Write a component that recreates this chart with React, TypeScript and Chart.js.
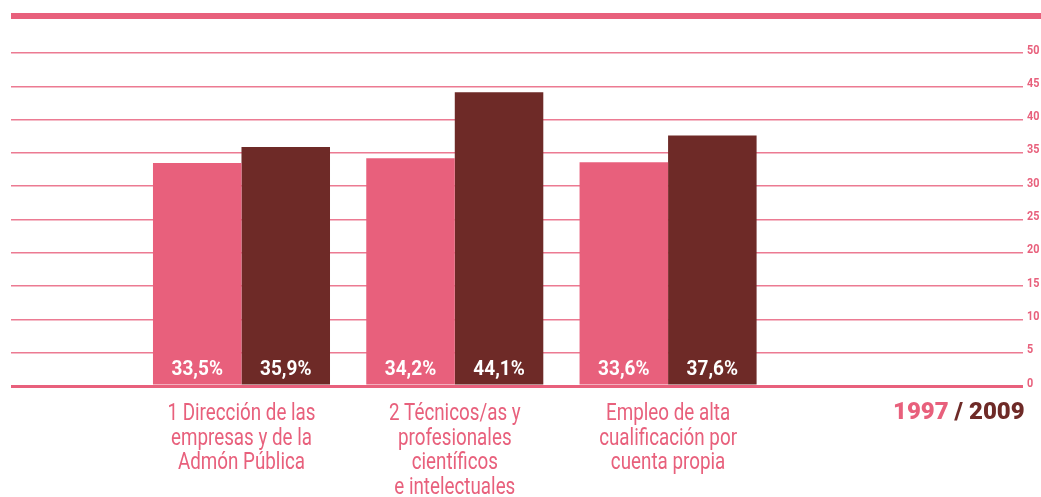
import React, { useEffect, useRef } from "react";
import { Chart, registerables } from "chart.js";

Chart.register(...registerables);

const categories: string[][] = [
  ["1 Dirección de las", "empresas y de la", "Admón Pública"],
  ["2 Técnicos/as y", "profesionales", "científicos", "e intelectuales"],
  ["Empleo de alta", "cualificación por", "cuenta propia"],
];
const groupPositions = [1, 2, 3];
const values1997 = [33.5, 34.2, 33.6];
const values2009 = [35.9, 44.1, 37.6];
const yTicks = [0, 5, 10, 15, 20, 25, 30, 35, 40, 45, 50];

const PINK = "#e8607c";
const DARK = "#6e2a27";
const GRID = "#ec7a92";
const FONT = "Roboto, 'DejaVu Sans', sans-serif";

const fmt = (v: number) => v.toFixed(1).replace(".", ",") + "%";

function squeezeText(ctx: any, text: string, x: number, y: number, sx: number) {
  ctx.save();
  ctx.translate(x, y);
  ctx.scale(sx, 1);
  ctx.fillText(text, 0, 0);
  ctx.restore();
}

export default function App() {
  const ref = useRef<HTMLCanvasElement | null>(null);
  useEffect(() => {
    if (!ref.current) return;
    const decor = {
      id: "decor",
      beforeDraw(chart: any) {
        const { ctx, chartArea } = chart;
        ctx.save();
        ctx.fillStyle = PINK;
        ctx.fillRect(chartArea.left, 13, chart.width - chartArea.left, 6);
        ctx.restore();
      },
      afterDatasetsDraw(chart: any) {
        const { ctx, chartArea } = chart;
        ctx.save();
        ctx.fillStyle = "#ffffff";
        ctx.font = `bold 20px ${FONT}`;
        ctx.textAlign = "center";
        ctx.textBaseline = "alphabetic";
        chart.data.datasets.forEach((ds: any, di: number) => {
          const meta = chart.getDatasetMeta(di);
          meta.data.forEach((el: any, i: number) => {
            squeezeText(ctx, fmt(ds.data[i].y), el.x, chartArea.bottom - 11, 0.95);
          });
        });
        ctx.restore();
      },
      afterDraw(chart: any) {
        const { ctx, chartArea } = chart;
        const xs = chart.scales.x;
        const ys = chart.scales.y;
        ctx.save();
        ctx.fillStyle = PINK;
        ctx.font = `23.5px ${FONT}`;
        ctx.textAlign = "center";
        ctx.textBaseline = "alphabetic";
        categories.forEach((lines, i) => {
          const cx = xs.getPixelForValue(groupPositions[i]);
          lines.forEach((line, k) => {
            squeezeText(ctx, line, cx, chartArea.bottom + 34 + k * 24.5, 0.8);
          });
        });
        ctx.font = `bold 13.5px ${FONT}`;
        ctx.textAlign = "left";
        yTicks.forEach((v) => {
          const y = ys.getPixelForValue(v);
          squeezeText(ctx, String(v), chartArea.right + 4, y + 0.5, 0.8);
        });
        ctx.restore();
      },
    };
    const chart = new Chart(ref.current, {
      type: "bar",
      data: {
        datasets: [
          {
            label: "1997",
            data: groupPositions.map((x, i) => ({ x, y: values1997[i] })),
            backgroundColor: PINK,
            categoryPercentage: 0.83,
            barPercentage: 1.0,
          },
          {
            label: "2009",
            data: groupPositions.map((x, i) => ({ x, y: values2009[i] })),
            backgroundColor: DARK,
            categoryPercentage: 0.83,
            barPercentage: 1.0,
          },
        ],
      },
      options: {
        animation: false,
        responsive: false,
        maintainAspectRatio: false,
        layout: { padding: { left: 11, top: 53, right: 0, bottom: 0 } },
        plugins: { legend: { display: false }, tooltip: { enabled: false } },
        scales: {
          x: {
            type: "linear",
            offset: false,
            min: -0.0806,
            max: 4.664,
            grid: { display: false, drawTicks: false },
            border: { display: false },
            afterBuildTicks: (axis: any) => {
              axis.ticks = groupPositions.map((v) => ({ value: v }));
            },
            afterFit: (axis: any) => {
              axis.height = 111;
            },
            ticks: { display: false },
          },
          y: {
            position: "right",
            min: 0,
            max: 50,
            afterBuildTicks: (axis: any) => {
              axis.ticks = yTicks.map((v) => ({ value: v }));
            },
            afterFit: (axis: any) => {
              axis.width = 18;
            },
            grid: {
              drawTicks: false,
              color: (c: any) => (c.tick && c.tick.value === 0 ? PINK : GRID),
              lineWidth: (c: any) => (c.tick && c.tick.value === 0 ? 3 : 1.5),
            },
            border: { display: false },
            ticks: { display: false },
          },
        },
      },
      plugins: [decor],
    } as any);
    return () => chart.destroy();
  }, []);
  return (
    <div style={{ position: "absolute", left: 0, top: 0, width: 1041, height: 497, background: "#fff" }}>
      <canvas ref={ref} width={1041} height={497} style={{ display: "block" }} />
      <div
        style={{
          position: "absolute",
          left: 893,
          top: 397,
          fontFamily: FONT,
          fontWeight: 900,
          fontSize: 24,
          color: DARK,
          whiteSpace: "nowrap",
        }}
      >
        <span style={{ color: PINK }}>1997</span> / 2009
      </div>
    </div>
  );
}
